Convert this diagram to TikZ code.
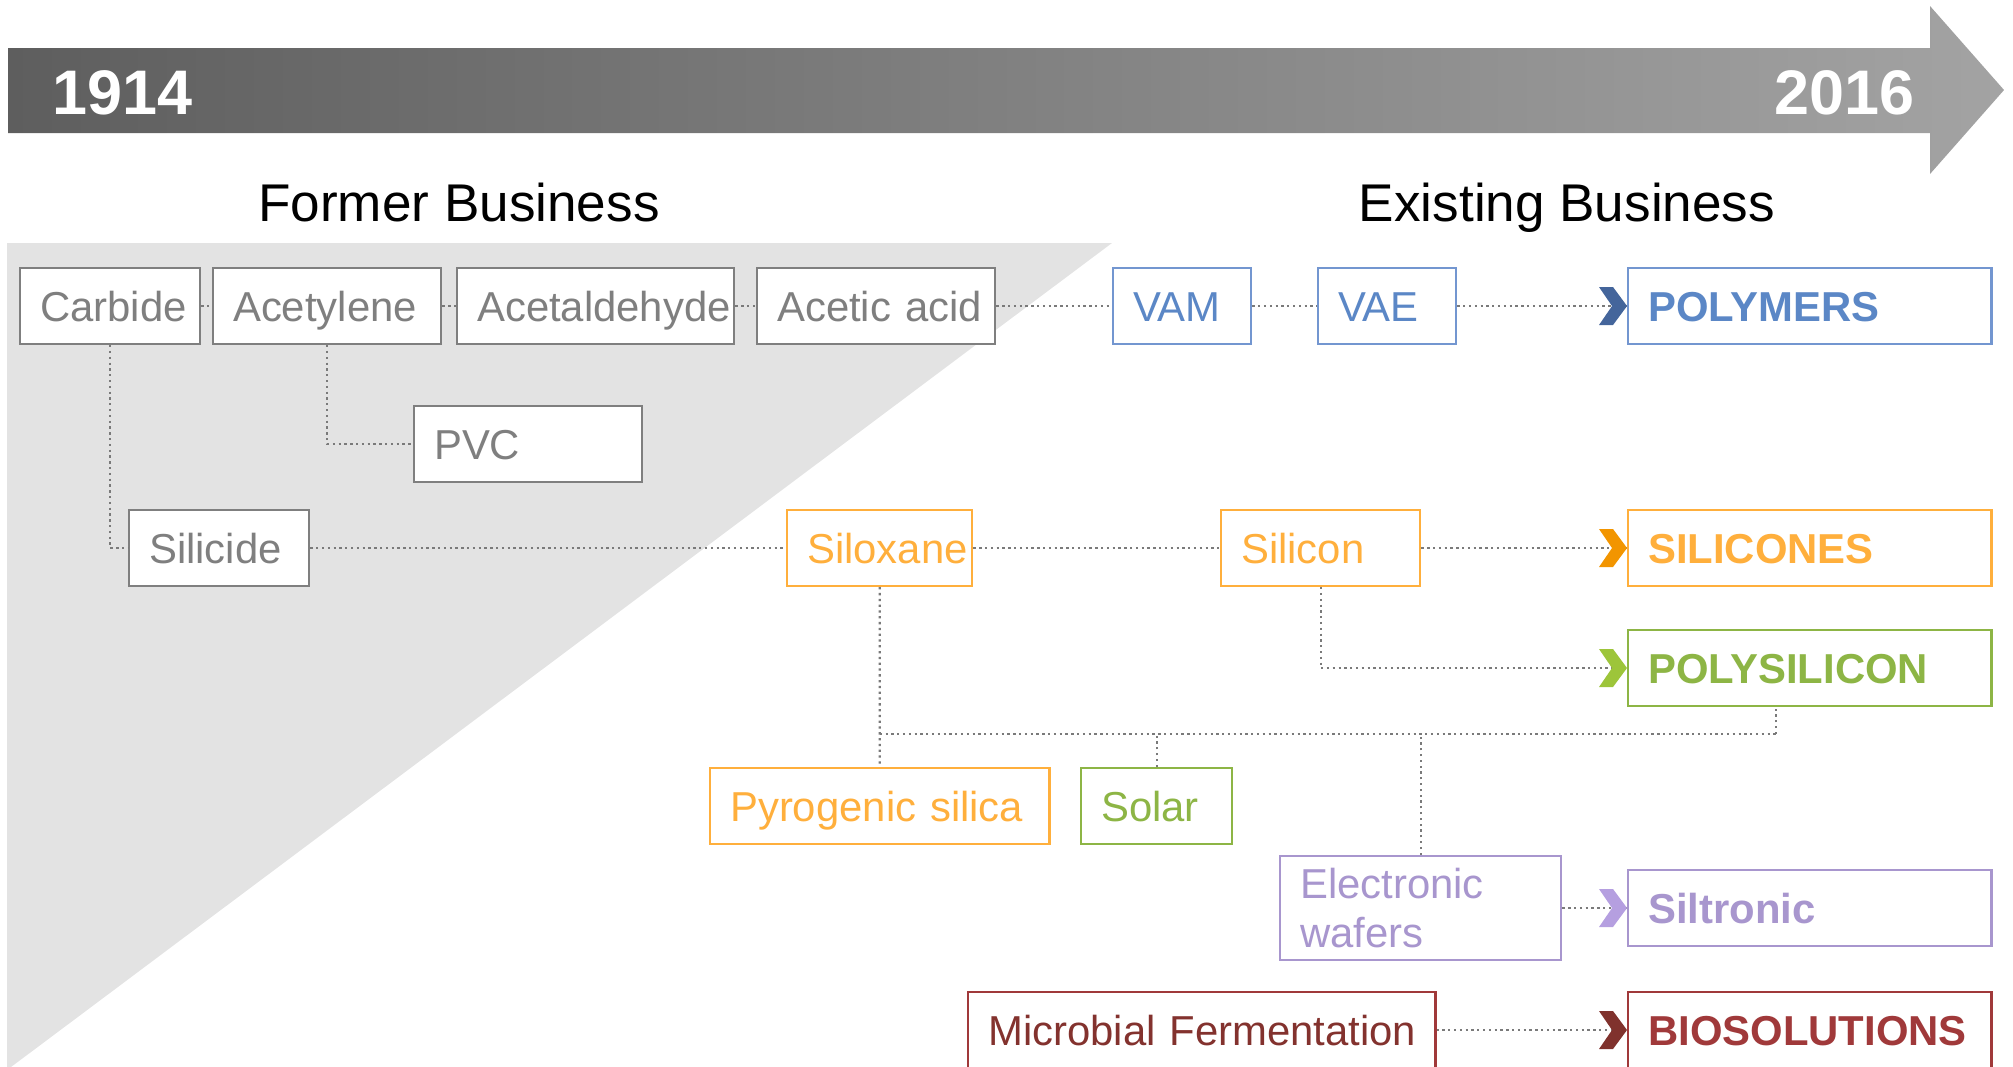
\documentclass[tikz,border=0pt]{standalone}
\usepackage{fontspec}
\setmainfont{Liberation Sans}

\definecolor{fgray}{HTML}{7F7F7F}
\definecolor{lgray}{HTML}{7A7A7A}
\definecolor{bgtri}{HTML}{E3E3E3}
\definecolor{barL}{HTML}{5E5E5E}
\definecolor{barR}{HTML}{A3A3A3}
\definecolor{cblue}{HTML}{5B87C6}
\definecolor{cbluel}{HTML}{7396D0}
\definecolor{chblue}{HTML}{44659B}
\definecolor{corange}{HTML}{FFAF3C}
\definecolor{chorange}{HTML}{F29500}
\definecolor{cgreen}{HTML}{8DB545}
\definecolor{chgreen}{HTML}{9DC53A}
\definecolor{cpurple}{HTML}{A896CE}
\definecolor{chpurple}{HTML}{B59FE0}
\definecolor{cred}{HTML}{A0393A}
\definecolor{chred}{HTML}{80322D}
\definecolor{cdred}{HTML}{83322E}

\begin{document}
\begin{tikzpicture}[x=0.01cm,y=-0.01cm,line width=0.65pt,
        box/.style={draw,fill=white,anchor=west,align=left,
          inner xsep=0.2cm,inner ysep=0pt,minimum height=0.76cm,
          text height=0.36cm,text depth=0.06cm,
          font=\fontsize{11.9}{14.2}\selectfont,
          execute at begin node={\hyphenpenalty=10000}},
        wd/.code={\pgfmathsetlengthmacro\boxw{#1}%
          \pgfmathsetlengthmacro\textw{#1-0.4cm}%
          \pgfkeysalso{minimum width=\boxw,text width=\textw}},
        gbox/.style={box,draw=fgray,text=fgray},
        bbox/.style={box,draw=cbluel,text=cblue},
        obox/.style={box,draw=corange,text=corange},
        grbox/.style={box,draw=cgreen,text=cgreen},
        pbox/.style={box,draw=cpurple,text=cpurple},
        rbox/.style={box,draw=cred,text=cred},
        prod/.style={wd=3.63cm,font=\fontsize{11.9}{14.2}\selectfont\bfseries},
        head/.style={anchor=base,inner sep=0pt,font=\fontsize{15.1}{18}\selectfont},
        year/.style={inner sep=0pt,text=white,font=\fontsize{17.9}{21}\selectfont\bfseries},
        link/.style={draw=lgray,densely dotted},
        elbow/.style={to path={|- (\tikztotarget)}},
        chev/.pic={\fill[#1] (-28,-19) -- (-14,-19) -- (0,0) -- (-14,19)
          -- (-28,19) -- (-15,0) -- cycle;}]

      \useasboundingbox (0,0) rectangle (2013,1066);

      \fill[bgtri] (7,243) -- (1112,243) -- (7,1070) -- cycle;
      \shade[left color=barL,right color=barR] (8,48) -- (1930,48) -- (1930,6)
        -- (2004,90) -- (1930,174) -- (1930,133) -- (8,133) -- cycle;

      \node[year,anchor=base west] (y1914) at (51,114) {1914};
      \node[year,anchor=base east] (y2016) at (1916,114) {2016};
      \node[head] (former) at (459,221) {Former Business};
      \node[head] (exist) at (1567,221) {Existing Business};

      \node[gbox,wd=1.80cm] (carb) at (19,306) {Carbide};
      \node[gbox,wd=2.28cm] (acety) at (212,306) {Acetylene};
      \node[gbox,wd=2.77cm] (acetal) at (456,306) {Acetaldehyde};
      \node[gbox,wd=2.38cm] (acetic) at (756,306) {Acetic~acid};
      \node[gbox,wd=2.28cm] (pvc) at (413,444) {PVC};
      \node[gbox,wd=1.80cm] (silic) at (128,548) {Silicide};

      \node[bbox,wd=1.38cm] (vam) at (1112,306) {VAM};
      \node[bbox,wd=1.38cm] (vae) at (1317,306) {VAE};
      \node[obox,wd=1.85cm] (silox) at (786,548) {Siloxane};
      \node[obox,wd=1.99cm] (silicon) at (1220,548) {Silicon};
      \node[obox,wd=3.39cm] (pyro) at (709,806) {Pyrogenic silica};
      \node[grbox,wd=1.51cm] (solar) at (1080,806) {Solar};
      \node[pbox,wd=2.81cm,minimum height=1.04cm,text height=0.30cm,
        text depth=0.50cm] (elec) at (1279,908) {Electronic\\wafers};
      \node[rbox,wd=4.67cm,text=cdred] (micro) at (967,1030) {Microbial~Fermentation};

      \node[bbox,prod] (polym) at (1627,306) {POLYMERS};
      \node[obox,prod] (silics) at (1627,548) {SILICONES};
      \node[grbox,prod] (polysi) at (1627,668) {POLYSILICON};
      \node[pbox,prod] (siltr) at (1627,908) {Siltronic};
      \node[rbox,prod] (bio) at (1627,1030) {BIOSOLUTIONS};

      \coordinate (bus) at (1776,734);

      \path[link]
      (carb) edge (acety)
      (acety) edge (acetal)
      (acetal) edge (acetic)
      (acetic) edge (vam)
      (vam) edge (vae)
      (vae) edge (polym)
      (carb.south) edge[elbow] (silic.west)
      (acety.south) edge[elbow] (pvc.west)

      (silic) edge (silox)
      (silox) edge (silicon)
      (silicon) edge (silics)
      (silicon.south) edge[elbow] (polysi.west)

      (silox.south) edge (pyro.north)
      (pyro.north |- bus) edge (bus)
      (bus) edge (bus |- polysi.south)
      (solar.north) edge (solar.north |- bus)
      (elec.north) edge (elec.north |- bus)

      (elec) edge (siltr)
      (micro) edge (bio);

      \pic at (polym.west) {chev=chblue};
      \pic at (silics.west) {chev=chorange};
      \pic at (polysi.west) {chev=chgreen};
      \pic at (siltr.west) {chev=chpurple};
      \pic at (bio.west) {chev=chred};

    \end{tikzpicture}
\end{document}
